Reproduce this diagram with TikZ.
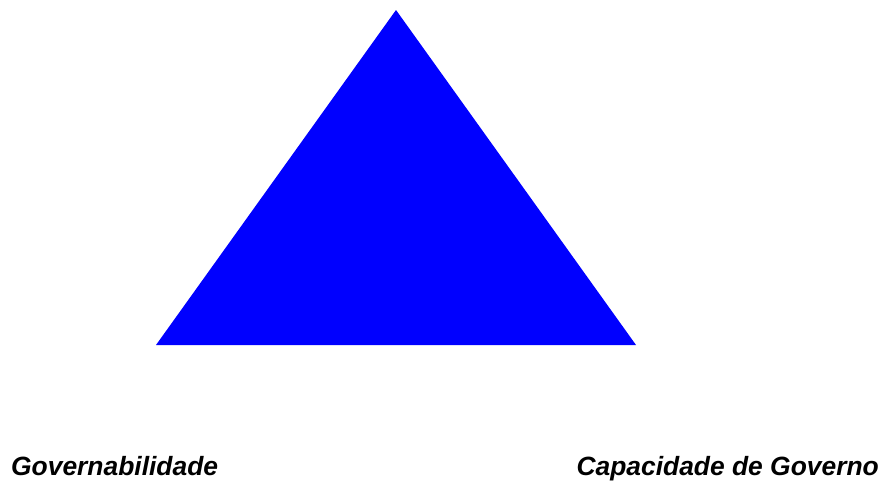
\documentclass[tikz,border=0pt]{standalone}
\usepackage{fontspec}
\setmainfont{Liberation Sans}
\usepackage{xcolor}
\usepackage{tikz}

\begin{document}
\begin{tikzpicture}[x=1pt, y=-1pt, every node/.style={inner sep=0pt, font=\fontsize{26.4}{31}\selectfont\bfseries\itshape}]
\useasboundingbox (0,0) rectangle (883,482);
\coordinate (top) at (396,10);
\coordinate (left) at (156,345);
\coordinate (right) at (636,345);
\fill[blue] (top) -- (left) -- (right) -- cycle;
\node[anchor=base west] (gov) at (11,475) {Governabilidade};
\node[anchor=base east] (cap) at (879,475) {Capacidade de Governo};
\end{tikzpicture}
\end{document}
